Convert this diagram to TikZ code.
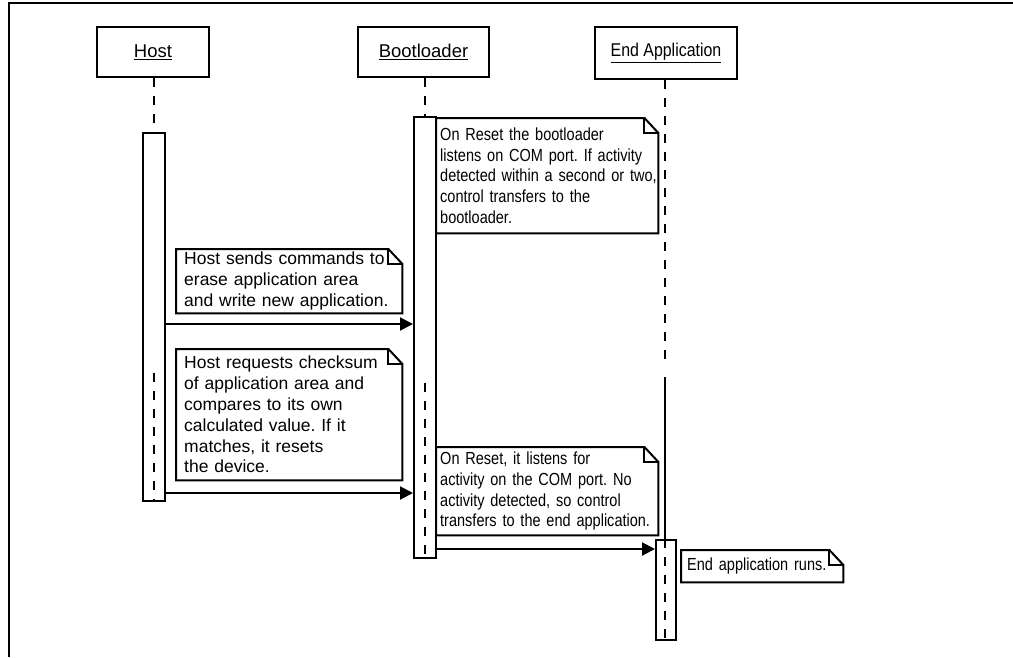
\documentclass[tikz,border=0pt]{standalone}
\usepackage{fontspec}
\setmainfont{Liberation Sans}
\newfontfamily\narrowsans[FakeStretch=0.83]{Liberation Sans}
\newfontfamily\headnarrow[FakeStretch=0.86]{Liberation Sans}
\usetikzlibrary{arrows.meta,calc}
\newcommand\notefold[1]{%
  \draw[noteline] (#1.north west) -- ([xshift=-14pt]#1.north east) -- ([yshift=-15pt]#1.north east) -- (#1.south east) -- (#1.south west) -- cycle;
  \draw[noteline] ([xshift=-14pt]#1.north east) |- ([yshift=-15pt]#1.north east);}
\newcommand\nln[1]{\mbox{#1}}
\begin{document}
\frenchspacing
\begin{tikzpicture}[x=1pt,y=-1pt,
  frameline/.style={line width=2.7pt},
  head/.style={draw, line width=2pt, inner sep=0pt, font=\fontsize{18.5}{20.8}\selectfont},
  act/.style={draw, fill=white, line width=2pt, inner sep=0pt},
  lifeline/.style={line width=2pt, dash pattern=on 9pt off 9pt},
  solidlife/.style={line width=2pt},
  msg/.style={line width=2pt, -{Triangle[length=13pt,width=13pt]}},
  noteline/.style={line width=2pt},
  notebase/.style={anchor=north west, inner ysep=0pt, align=left},
  hostnote/.style={notebase, inner xsep=8pt, text width=210pt, font=\fontsize{17.5}{20.8}\selectfont},
  bootnote/.style={notebase, inner xsep=4pt, text width=214pt, font=\narrowsans\fontsize{17.5}{20.8}\selectfont},
]
\useasboundingbox (0,0) rectangle (1013,657);
% frame
\draw[frameline] (9,657) -- (9,3) -- (1013,3);
% headers
\node[head, minimum width=112pt, minimum height=50pt] (host) at (153,52) {\underline{Host}};
\node[head, minimum width=131pt, minimum height=50pt] (boot) at (423.5,52) {\underline{Bootloader}};
\node[head, minimum width=142pt, minimum height=52pt, font=\headnarrow\fontsize{18.5}{20.8}\selectfont] (endapp) at (666,53) {\underline{End Application}};
% coordinates
\coordinate (hostmid) at (154,373);
\coordinate (bootmid) at (425,383);
\coordinate (endA) at (665,363);
\coordinate (endB) at (665,377);
\coordinate (m1) at (0,324);
\coordinate (m2) at (0,493);
\coordinate (m3) at (0,549);
% activation boxes (positions)
\path (154,317) node[act, minimum width=22pt, minimum height=368pt] (hostact) {};
\path (425,337.5) node[act, minimum width=22pt, minimum height=441pt] (bootact) {};
\path (666,590) node[act, minimum width=20pt, minimum height=100pt] (endact) {};
% lifelines above activations
\draw[lifeline] (hostact.north |- host.south) -- (hostact.north);
\draw[lifeline] (bootact.north |- boot.south) -- (bootact.north);
\draw[lifeline] (endA |- endapp.south) -- (endA);
\draw[solidlife] (endB) -- (endB |- endact.north);
% redraw activation boxes on top
\node[act, minimum width=22pt, minimum height=368pt] at (hostact) {};
\node[act, minimum width=22pt, minimum height=441pt] at (bootact) {};
\node[act, minimum width=20pt, minimum height=100pt] at (endact) {};
% dashed lines inside activations
\draw[lifeline] (hostmid) -- (hostmid |- hostact.south);
\draw[lifeline] (bootmid) -- (bootmid |- bootact.south);
\draw[lifeline] (endA |- endact.north) -- (endA |- endact.south);
% messages
\draw[msg] (hostact.east |- m1) -- (bootact.west |- m1);
\draw[msg] (hostact.east |- m2) -- (bootact.west |- m2);
\draw[msg] (bootact.east |- m3) -- (endact.west |- m3);
% notes
\node[bootnote, minimum height=115pt] (n1) at (436,118) {\nln{On Reset the bootloader}\\\nln{listens on COM port. If activity}\\\nln{detected within a second or two,}\\\nln{control transfers to the}\\\nln{bootloader.}};
\notefold{n1}
\node[hostnote, minimum height=64pt] (n2) at (176,249) {\nln{Host sends commands to}\\\nln{erase application area}\\\nln{and write new application.}};
\notefold{n2}
\node[hostnote, minimum height=131pt] (n3) at (176,349) {\nln{Host requests checksum}\\\nln{of application area and}\\\nln{compares to its own}\\\nln{calculated value. If it}\\\nln{matches, it resets}\\\nln{the device.}};
\notefold{n3}
\node[bootnote, minimum height=88pt] (n4) at (436,447) {\nln{On Reset, it listens for}\\\nln{activity on the COM port. No}\\\nln{activity detected, so control}\\\nln{transfers to the end application.}};
\notefold{n4}
\node[bootnote, inner xsep=6pt, text width=150pt, minimum height=32pt] (n5) at (681,550) {\nln{End application runs.}};
\notefold{n5}
\end{tikzpicture}
\end{document}
